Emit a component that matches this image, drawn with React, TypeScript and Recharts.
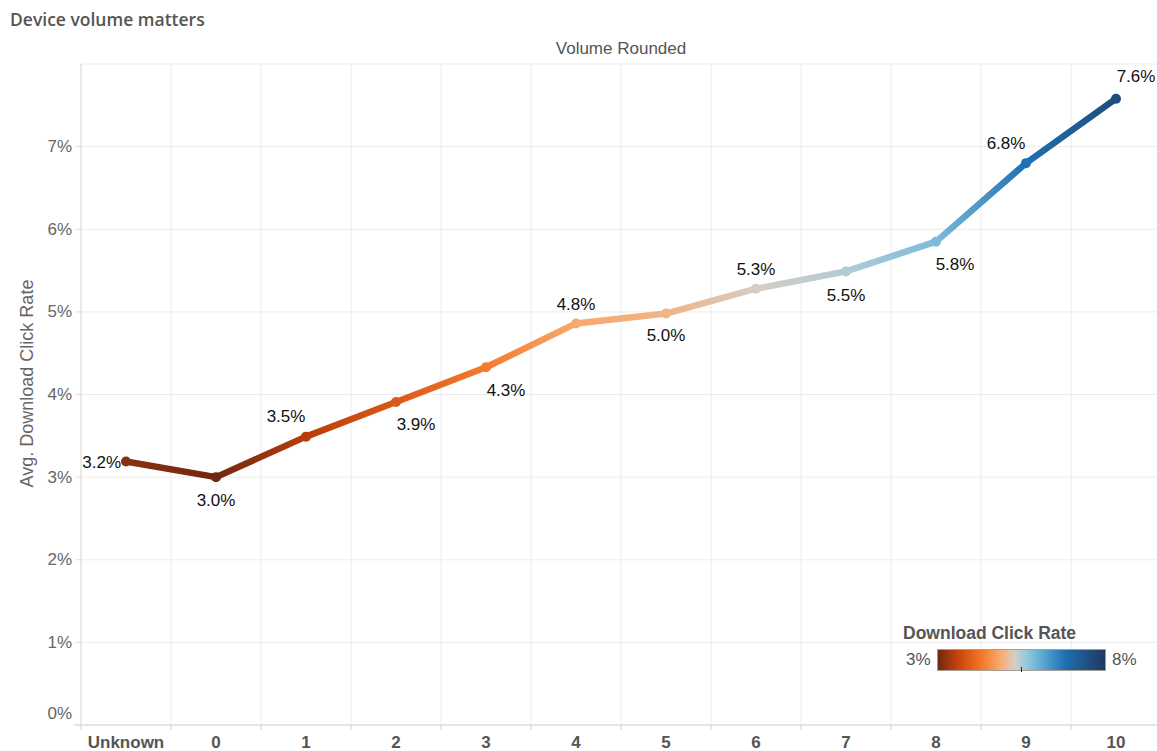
import React from 'react';
import {
  LineChart,
  Line,
  XAxis,
  YAxis,
  CartesianGrid,
  LabelList,
} from 'recharts';

const categories = ['Unknown', '0', '1', '2', '3', '4', '5', '6', '7', '8', '9', '10'];
const clickRate = [3.19, 3.0, 3.49, 3.91, 4.33, 4.86, 4.98, 5.28, 5.49, 5.85, 6.8, 7.58];
const labels = ['3.2%', '3.0%', '3.5%', '3.9%', '4.3%', '4.8%', '5.0%', '5.3%', '5.5%', '5.8%', '6.8%', '7.6%'];
const yTicks = [0, 1, 2, 3, 4, 5, 6, 7, 8];
const legendMin = 3;
const legendMax = 8;

// label placement relative to each point (dx, dy, anchor)
const labelPos: [number, number, string][] = [
  [-5, 1, 'end'],
  [0, 23, 'middle'],
  [-20, -20, 'middle'],
  [20, 23, 'middle'],
  [20, 23, 'middle'],
  [0, -19, 'middle'],
  [0, 22, 'middle'],
  [0, -19, 'middle'],
  [0, 24, 'middle'],
  [19, 23, 'middle'],
  [-20, -20, 'middle'],
  [20, -22, 'middle'],
];

// orange-blue diverging ramp
const ramp: [number, string][] = [
  [3.0, '#6f2812'],
  [3.6, '#c8420b'],
  [4.3, '#f3782a'],
  [4.9, '#f8ad74'],
  [5.3, '#d3cfcb'],
  [5.7, '#8cc6df'],
  [6.3, '#4a9bcb'],
  [6.8, '#1f70b2'],
  [8.0, '#1f3860'],
];

const hex = (c: string) => [1, 3, 5].map((i) => parseInt(c.slice(i, i + 2), 16));
function colorFor(v: number) {
  if (v <= ramp[0][0]) return ramp[0][1];
  for (let i = 1; i < ramp.length; i++) {
    if (v <= ramp[i][0]) {
      const [v0, c0] = ramp[i - 1];
      const [v1, c1] = ramp[i];
      const t = (v - v0) / (v1 - v0);
      const a = hex(c0);
      const b = hex(c1);
      const m = a.map((x, k) => Math.round(x + (b[k] - x) * t));
      return `rgb(${m[0]},${m[1]},${m[2]})`;
    }
  }
  return ramp[ramp.length - 1][1];
}

const data = categories.map((name, i) => ({ name, rate: clickRate[i], label: labels[i] }));

const W = 1165;
const H = 751;
const LEFT = 81;
const RIGHT = 4;
const PLOT_W = W - LEFT - RIGHT;
const BAND = PLOT_W / categories.length;
const FONT = '"Liberation Sans", Arial, sans-serif';

const XTick = (props: any) => {
  const { x, y, payload, index } = props;
  const half = BAND / 2;
  return (
    <g>
      <line x1={x - half} x2={x - half} y1={y} y2={y + 5} stroke="#cfcfcf" />
      {index === 0 && <line x1={x - half - 7} x2={x - half} y1={y} y2={y} stroke="#d4d4d4" />}
      {index === categories.length - 1 && (
        <line x1={x + half} x2={x + half} y1={y} y2={y + 5} stroke="#cfcfcf" />
      )}
      <text
        x={x}
        y={y + 17}
        textAnchor="middle"
        dominantBaseline="central"
        fontFamily={FONT}
        fontWeight="bold"
        fontSize={17}
        fill="#555"
      >
        {payload.value}
      </text>
    </g>
  );
};

const YTick = (props: any) => {
  const { x, y, payload } = props;
  if (payload.value >= 8) return null;
  const ty = payload.value === 0 ? y - 12 : y;
  return (
    <g>
      <line x1={x - 5} x2={x} y1={y} y2={y} stroke="#dcdcdc" />
      <text
        x={x - 9}
        y={ty}
        textAnchor="end"
        dominantBaseline="central"
        fontFamily={FONT}
        fontSize={17}
        fill="#666"
      >
        {payload.value}%
      </text>
    </g>
  );
};

const Dot = (props: any) => {
  const { cx, cy, payload, index } = props;
  return <circle key={`d${index}`} cx={cx} cy={cy} r={5} fill={colorFor(payload.rate)} />;
};

const PointLabel = (props: any) => {
  const { x, y, value, index } = props;
  const [dx, dy, anchor] = labelPos[index];
  return (
    <text
      x={x + dx}
      y={y + dy}
      textAnchor={anchor}
      dominantBaseline="central"
      fontFamily={FONT}
      fontSize={17}
      fill="#111"
    >
      {value}
    </text>
  );
};

const legendStops = ramp.map(([v, c]) => ({ offset: ((v - legendMin) / (legendMax - legendMin)) * 100, c }));

export default function App() {
  return (
    <div
      style={{
        position: 'absolute',
        left: 0,
        top: 0,
        width: 1157,
        height: 751,
        overflow: 'hidden',
        background: '#fff',
        fontFamily: FONT,
      }}
    >
      <div
        style={{
          position: 'absolute',
          left: 10,
          top: 7,
          fontFamily: '"Open Sans", sans-serif',
          fontWeight: 600,
          fontSize: 17.5,
          color: '#555',
        }}
      >
        Device volume matters
      </div>
      <div
        style={{
          position: 'absolute',
          left: LEFT,
          width: PLOT_W,
          top: 39,
          textAlign: 'center',
          fontSize: 17,
          color: '#555',
        }}
      >
        Volume Rounded
      </div>
      <LineChart width={W} height={H} data={data} margin={{ top: 64, right: RIGHT, bottom: 0, left: 0 }}>
        <defs>
          <linearGradient id="lineGrad" x1="0" y1="0" x2="1" y2="0">
            {clickRate.map((v, i) => (
              <stop key={i} offset={`${(i / (clickRate.length - 1)) * 100}%`} stopColor={colorFor(v)} />
            ))}
          </linearGradient>
        </defs>
        <CartesianGrid
          stroke="#ececec"
          verticalCoordinatesGenerator={({ offset }: any) =>
            Array.from({ length: categories.length + 1 }, (_, k) => offset.left + (k * offset.width) / categories.length)
          }
        />
        <XAxis
          dataKey="name"
          padding={{ left: BAND / 2, right: BAND / 2 }}
          height={26}
          tickSize={0}
          tickMargin={0}
          tickLine={false}
          axisLine={{ stroke: '#d4d4d4' }}
          tick={<XTick />}
          interval={0}
        />
        <YAxis
          type="number"
          domain={[0, 8]}
          ticks={yTicks}
          width={LEFT}
          tickSize={0}
          tickMargin={0}
          tickLine={false}
          axisLine={{ stroke: '#dcdcdc' }}
          tick={<YTick />}
          label={{
            value: 'Avg. Download Click Rate',
            angle: -90,
            position: 'insideLeft',
            dx: 22,
            dy: -11,
            style: { fontFamily: FONT, fontSize: 18, fill: '#666', textAnchor: 'middle' },
          }}
        />
        <Line
          dataKey="rate"
          stroke="url(#lineGrad)"
          strokeWidth={6.5}
          strokeLinejoin="round"
          dot={<Dot />}
          activeDot={false}
          isAnimationActive={false}
        >
          <LabelList dataKey="label" content={<PointLabel />} />
        </Line>
      </LineChart>
      <div
        style={{
          position: 'absolute',
          left: 903,
          top: 623,
          fontWeight: 'bold',
          fontSize: 17.5,
          color: '#555',
        }}
      >
        Download Click Rate
      </div>
      <div style={{ position: 'absolute', left: 906, top: 650, fontSize: 17, color: '#555' }}>{legendMin}%</div>
      <div style={{ position: 'absolute', left: 1112, top: 650, fontSize: 17, color: '#555' }}>{legendMax}%</div>
      <div
        style={{
          position: 'absolute',
          left: 937,
          top: 649,
          width: 169,
          height: 22,
          boxSizing: 'border-box',
          border: '1px solid #a49d92',
          background: `linear-gradient(to right, ${legendStops.map((s) => `${s.c} ${s.offset}%`).join(', ')})`,
        }}
      />
      <div style={{ position: 'absolute', left: 1021, top: 667, width: 1, height: 5, background: '#222' }} />
    </div>
  );
}
